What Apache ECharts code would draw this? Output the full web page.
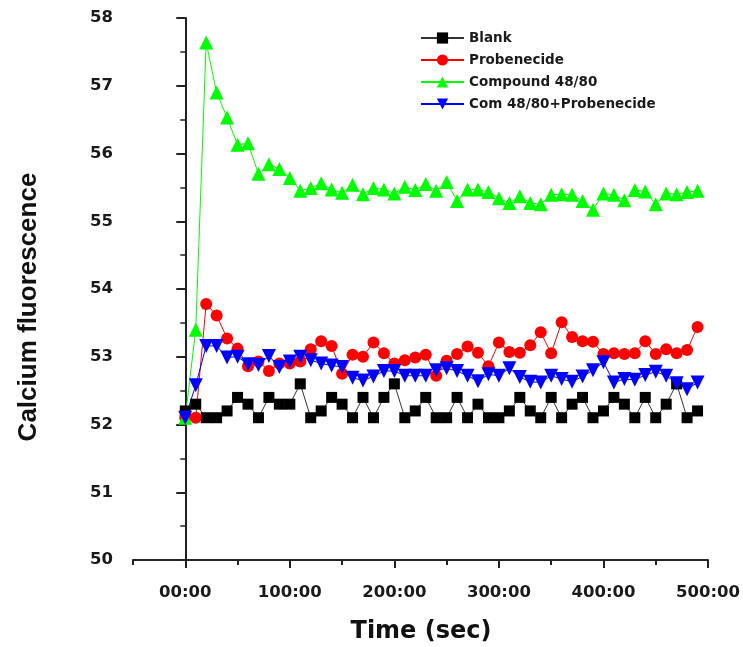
<!DOCTYPE html>
<html>
<head>
<meta charset="utf-8">
<script src="https://cdn.jsdelivr.net/npm/echarts@6/dist/echarts.min.js"></script>
<style>html,body{margin:0;padding:0;background:#fff;}#chart{width:743px;height:647px;}</style>
</head>
<body>
<div id="chart"></div>
<script>
var timeSec = [0,10,20,30,40,50,60,70,80,90,100,110,120,130,140,150,160,170,180,190,200,210,220,230,240,250,260,270,280,290,300,310,320,330,340,350,360,370,380,390,400,410,420,430,440,450,460,470,480,490];
var xTickLabels = [0,100,200,300,400,500];
var blank = [52.2,52.3,52.1,52.1,52.2,52.4,52.3,52.1,52.4,52.3,52.3,52.6,52.1,52.2,52.4,52.3,52.1,52.4,52.1,52.4,52.6,52.1,52.2,52.4,52.1,52.1,52.4,52.1,52.3,52.1,52.1,52.2,52.4,52.2,52.1,52.4,52.1,52.3,52.4,52.1,52.2,52.4,52.3,52.1,52.4,52.1,52.3,52.6,52.1,52.2];
var probenecide = [52.1,52.1,53.78,53.61,53.27,53.12,52.86,52.93,52.79,52.9,52.9,52.93,53.11,53.23,53.16,52.75,53.03,53.0,53.21,53.05,52.9,52.95,52.99,53.03,52.72,52.94,53.04,53.15,53.06,52.86,53.21,53.07,53.06,53.17,53.36,53.05,53.51,53.29,53.23,53.22,53.04,53.05,53.04,53.05,53.23,53.04,53.11,53.05,53.1,53.44];
var compound4880 = [52.1,53.4,57.64,56.9,56.53,56.13,56.15,55.7,55.84,55.77,55.64,55.45,55.49,55.56,55.47,55.42,55.54,55.4,55.49,55.47,55.41,55.51,55.46,55.55,55.45,55.58,55.3,55.47,55.47,55.43,55.34,55.27,55.37,55.27,55.25,55.39,55.4,55.39,55.3,55.17,55.41,55.39,55.31,55.46,55.44,55.25,55.41,55.4,55.43,55.45];
var comProb = [52.1,52.58,53.16,53.16,52.99,53.0,52.89,52.88,53.01,52.85,52.93,53.0,52.95,52.9,52.87,52.85,52.69,52.65,52.71,52.79,52.79,52.72,52.72,52.72,52.8,52.83,52.79,52.72,52.64,52.74,52.72,52.83,52.7,52.63,52.62,52.72,52.67,52.63,52.71,52.8,52.92,52.62,52.67,52.66,52.73,52.78,52.72,52.61,52.52,52.62];
var minorXTicks = [-50,50,150,250,350,450];

function pairs(vals){ return timeSec.map(function(t,i){ return [t, vals[i]]; }); }

var chart = echarts.init(document.getElementById('chart'), null, {renderer:'canvas'});
var labelFont = {fontFamily:'DejaVu Sans', fontWeight:'bold', fontSize:16.5, color:'#1a1a1a'};
var axisLine = {show:true, lineStyle:{color:'#222', width:2}};
function mkSeries(name, vals, symbol, size, color, lineColor, rotate){
  return {name:name, type:'line', data:pairs(vals), symbol:symbol, symbolSize:size, symbolRotate:rotate||0,
    showAllSymbol:true, itemStyle:{color:color}, lineStyle:{color:lineColor, width:1}, animation:false};
}
chart.setOption({
  animation:false,
  backgroundColor:'#fff',
  grid:{left:133, right:33, top:18, bottom:87, containLabel:false},
  legend:{orient:'vertical', left:415, top:26, itemWidth:43, itemHeight:14, itemGap:8,
    textStyle:{fontFamily:'DejaVu Sans', fontWeight:'bold', fontSize:13.5, color:'#1a1a1a'},
    data:['Blank','Probenecide','Compound 48/80','Com 48/80+Probenecide']},
  xAxis:[{type:'value', min:-50, max:500, interval:50, axisLine:axisLine,
    axisTick:{show:true, inside:false, length:8, customValues:xTickLabels, lineStyle:{color:'#222', width:2}},
    axisLabel:Object.assign({margin:24, customValues:xTickLabels, formatter:function(v){return (v===0?'00':String(v))+':00';}}, labelFont),
    splitLine:{show:false}},
   {type:'value', min:-50, max:500, position:'bottom', axisLine:{show:false},
    axisTick:{show:true, length:5, customValues:minorXTicks, lineStyle:{color:'#222', width:2}},
    axisLabel:{show:false}, splitLine:{show:false}}],
  yAxis:{type:'value', min:50, max:58, interval:1, axisLine:axisLine,
    axisTick:{show:true, inside:false, length:9, lineStyle:{color:'#222', width:2}},
    minorTick:{show:true, splitNumber:2, length:5, lineStyle:{color:'#222', width:1.5}},
    axisLabel:Object.assign({margin:20}, labelFont), splitLine:{show:false}},
  graphic:[
    {type:'text', x:421, y:632, style:{text:'Time (sec)', textAlign:'center', textVerticalAlign:'middle', fontFamily:'DejaVu Sans', fontWeight:'bold', fontSize:24, fill:'#111'}},
    {type:'text', x:29, y:307, rotation:Math.PI/2, style:{text:'Calcium fluorescence', textAlign:'center', textVerticalAlign:'middle', fontFamily:'Liberation Sans', fontWeight:'bold', fontSize:26, fill:'#111'}}
  ],
  series:[
    mkSeries('Blank', blank, 'rect', 11, '#000', '#333'),
    mkSeries('Probenecide', probenecide, 'circle', 12, '#ff0000', '#ff0000'),
    mkSeries('Compound 48/80', compound4880, 'triangle', 14, '#00ff00', '#00ff00'),
    mkSeries('Com 48/80+Probenecide', comProb, 'triangle', 14, '#0000ff', '#0000ff', 180)
  ]
});
</script>
</body>
</html>
